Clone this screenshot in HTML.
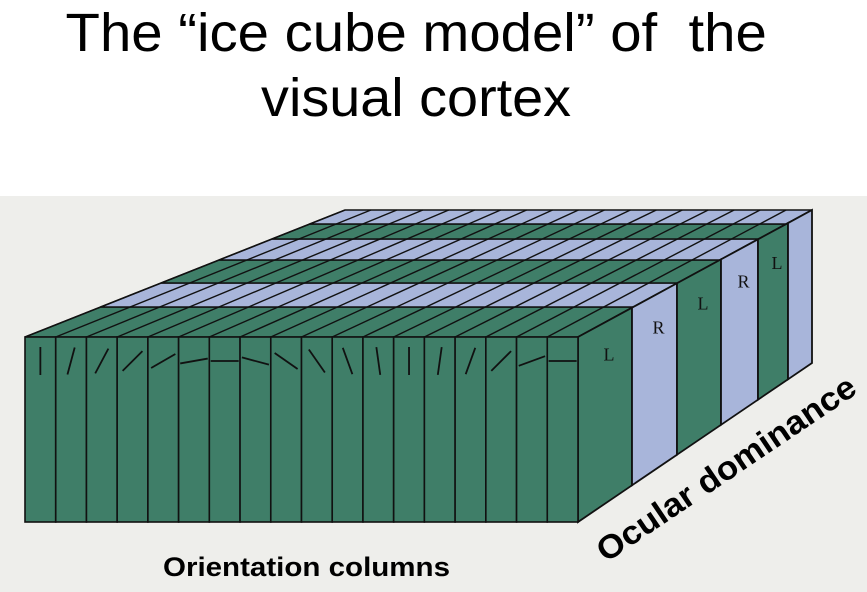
<!DOCTYPE html>
<html><head><meta charset="utf-8">
<style>
html,body{margin:0;padding:0;background:#fff;}
#wrap{position:relative;width:867px;height:592px;overflow:hidden;background:#fff;}
.title{position:absolute;left:-17px;width:867px;text-align:center;font-family:"Liberation Sans",sans-serif;font-size:54px;color:#000;white-space:nowrap;line-height:1;}
</style></head>
<body>
<div id="wrap">
<div class="title" style="top:6px"><span style="display:inline-block;transform:scaleX(1.043)">The “ice cube model” of&nbsp; the</span></div>
<div class="title" style="top:71px"><span style="display:inline-block;transform:scaleX(1.033)">visual cortex</span></div>
<svg id="fig" width="867" height="592" style="position:absolute;left:0;top:0">
<rect x="0" y="196" width="867" height="396" fill="#eeeeeb"/>
<g id="cube"></g>
<text x="163" y="576" textLength="287" lengthAdjust="spacingAndGlyphs" font-family="Liberation Sans, sans-serif" font-weight="bold" font-size="27" fill="#000">Orientation columns</text>
<text transform="translate(606,563) rotate(-34)" textLength="305" lengthAdjust="spacingAndGlyphs" font-family="Liberation Sans, sans-serif" font-weight="bold" font-size="33" fill="#000">Ocular dominance</text>
</svg>
</div>
<script>
// column orientation angles (degrees from vertical)
const orientationAngles = [0,15,28,45,60,80,90,-75,-55,-35,-20,-8,0,8,20,45,70,90];
// ocular dominance slabs front to back
const slabEyes = ['L','R','L','R','L',''];
const GREEN='#3f7e68', BLUE='#a8b5da', INK='#111';
const NS='http://www.w3.org/2000/svg';
const g=document.getElementById('cube');
function el(tag,attrs){const e=document.createElementNS(NS,tag);for(const k in attrs)e.setAttribute(k,attrs[k]);g.appendChild(e);return e;}
const fx0=25, fx1=578, fy0=337, fy1=522;
const bx0=345, bx1=812, by0=210, by1=363;
const bandY=[337,307,283,260,239,224,210];
const sideX=[578,632,677,721,758,788,812];
const nCols=orientationAngles.length;
function leftX(y){return fx0+(bx0-fx0)*(fy0-y)/(fy0-by0);}
function rightX(y){return fx1+(bx1-fx1)*(fy0-y)/(fy0-by0);}
function sideTopY(x){return fy0+(by0-fy0)*(x-fx1)/(bx1-fx1);}
function sideBotY(x){return fy1+(by1-fy1)*(x-fx1)/(bx1-fx1);}
for(let i=0;i<bandY.length-1;i++){
  const ya=bandY[i], yb=bandY[i+1];
  const p=el('polygon',{points:`${leftX(ya)},${ya} ${rightX(ya)},${ya} ${rightX(yb)},${yb} ${leftX(yb)},${yb}`,fill:i%2===0?GREEN:BLUE,stroke:INK,'stroke-width':1.6});
  
  
}
for(let c=0;c<=nCols;c++){
  const t=c/nCols;
  const xa=fx0+(fx1-fx0)*t, xb=bx0+(bx1-bx0)*t;
  const l=el('line',{x1:xa,y1:fy0,x2:xb,y2:by0,stroke:INK,'stroke-width':1.4});
  
  
}
for(let i=0;i<sideX.length-1;i++){
  const xa=sideX[i], xb=sideX[i+1];
  const p=el('polygon',{points:`${xa},${sideTopY(xa)} ${xb},${sideTopY(xb)} ${xb},${sideBotY(xb)} ${xa},${sideBotY(xa)}`,fill:i%2===0?GREEN:BLUE,stroke:INK,'stroke-width':1.8});
  
  
  if(slabEyes[i]){
    const t=el('text',{x:(xa+xb)/2+4,y:(sideTopY(xa)+sideTopY(xb))/2+38,'text-anchor':'middle','font-family':'Liberation Serif, serif','font-size':18,fill:'#111'});
    t.textContent=slabEyes[i];
    
    
  }
}
const cw=(fx1-fx0)/nCols;
for(let c=0;c<nCols;c++){
  const x=fx0+c*cw;
  const r=el('rect',{x:x,y:fy0,width:cw,height:fy1-fy0,fill:GREEN,stroke:INK,'stroke-width':1.6});
  
  
  const a=orientationAngles[c]*Math.PI/180, L=28, cx=x+cw/2, cy=361;
  const dx=Math.sin(a)*L/2, dy=Math.cos(a)*L/2;
  const tk=el('line',{x1:cx-dx,y1:cy+dy,x2:cx+dx,y2:cy-dy,stroke:INK,'stroke-width':1.8});
  
  
}
</script>
</body></html>
